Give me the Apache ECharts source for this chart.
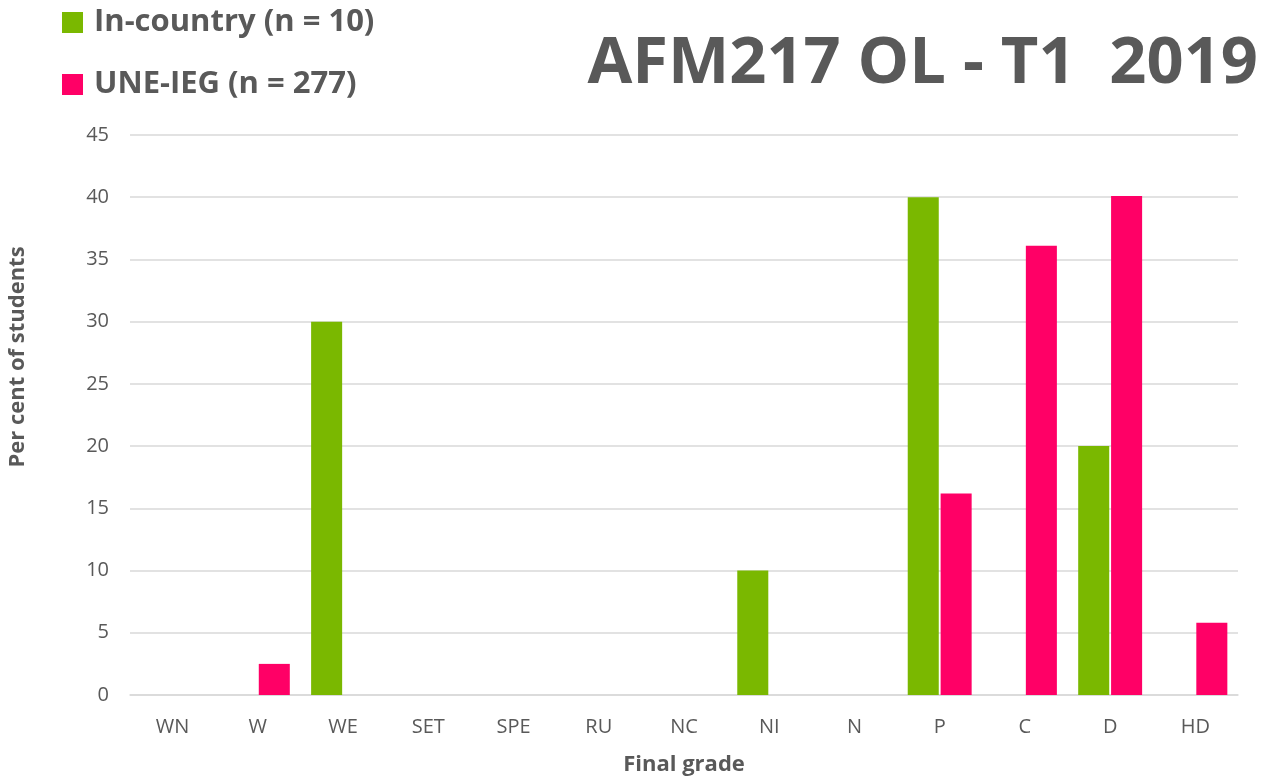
<!DOCTYPE html>
<html><head><meta charset="utf-8">
<script src="https://cdn.jsdelivr.net/npm/echarts@6/dist/echarts.min.js"></script>
<style>html,body{margin:0;padding:0;background:#fff}#c{width:1269px;height:778px}</style>
</head><body><div id="c"></div>
<script>
const categories = ['WN','W','WE','SET','SPE','RU','NC','NI','N','P','C','D','HD'];
const inCountry = [0,0,30,0,0,0,0,10,0,40,0,20,0];
const uneIeg = [0,2.5,0,0,0,0,0,0,0,16.2,36.1,40.1,5.8];
const seriesNames = ['In-country (n = 10)','UNE-IEG (n = 277)'];
const yTicks = {min:0,max:45,interval:5};

const font = '"Open Sans", "DejaVu Sans", sans-serif';
const grey = '#595959';
const chart = echarts.init(document.getElementById('c'));
chart.setOption({
  animation:false,
  title:{text:'AFM217 OL - T1  2019', right:6, top:27,
    textStyle:{fontFamily:font,fontWeight:'bold',fontSize:65,color:grey}},
  legend:{orient:'vertical', left:57, top:2, itemWidth:21, itemHeight:21, itemGap:31,
    icon:'rect',
    textStyle:{fontFamily:font,fontWeight:'bold',fontSize:31,color:grey,padding:[0,0,0,6]}},
  grid:{left:130,right:31,top:135,bottom:83,containLabel:false,outerBoundsMode:'none'},
  xAxis:{type:'category',data:categories,
    name:'Final grade',nameLocation:'middle',nameGap:59,
    nameTextStyle:{fontFamily:font,fontWeight:'bold',fontSize:22,color:grey},
    axisLine:{lineStyle:{color:'#d9d9d9',width:1.5}},axisTick:{show:false},
    axisLabel:{fontFamily:font,fontSize:20,color:grey,margin:22}},
  yAxis:{type:'value',min:yTicks.min,max:yTicks.max,interval:yTicks.interval,
    name:'Per cent of students',nameLocation:'middle',nameGap:101,
    nameTextStyle:{fontFamily:font,fontWeight:'bold',fontSize:22,color:grey,padding:[0,0,0,116]},
    axisLabel:{fontFamily:font,fontSize:20,color:grey,margin:21},
    splitLine:{lineStyle:{color:'#d9d9d9',width:1.5}}},
  series:[
    {name:seriesNames[0],type:'bar',data:inCountry,itemStyle:{color:'#7AB800'},
     barGap:'6%',barCategoryGap:'25%'},
    {name:seriesNames[1],type:'bar',data:uneIeg,itemStyle:{color:'#FF0066'},
     barGap:'6%',barCategoryGap:'25%'}
  ]
});
</script></body></html>
